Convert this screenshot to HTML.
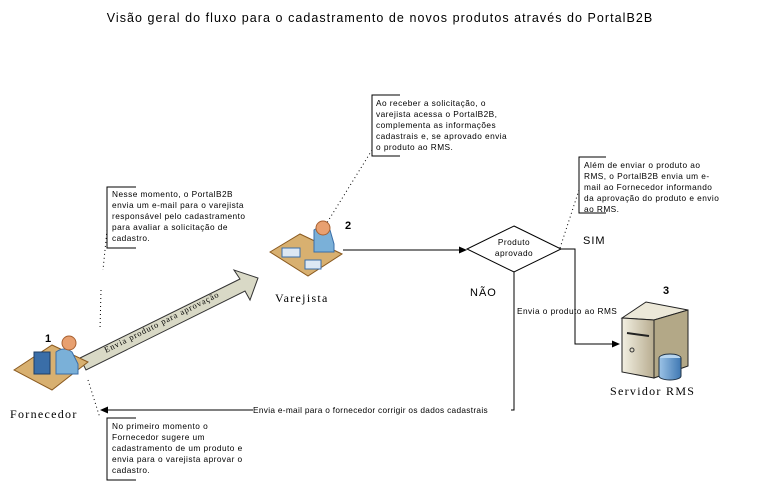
<!DOCTYPE html>
<html><head><meta charset="utf-8"><style>
body{margin:0;background:#fff;}
svg{display:block;font-family:"Liberation Sans",sans-serif;}
.n{font-size:8.3px;fill:#000;letter-spacing:0.45px;}
.l{font-size:12px;letter-spacing:1.3px;}
</style></head><body>
<svg width="772" height="483" viewBox="0 0 772 483" xmlns="http://www.w3.org/2000/svg">
<defs>
<marker id="ar" markerWidth="8" markerHeight="8" refX="7" refY="4" orient="auto" markerUnits="userSpaceOnUse"><path d="M0,0.5 L8,4 L0,7.5 z" fill="#000"/></marker>
<linearGradient id="sv" x1="0" x2="1"><stop offset="0" stop-color="#f2efe2"/><stop offset="1" stop-color="#b8ad90"/></linearGradient>
<linearGradient id="db" x1="0" x2="1"><stop offset="0" stop-color="#9cc3e6"/><stop offset="1" stop-color="#3f78b3"/></linearGradient>
</defs>
<text x="380" y="22" text-anchor="middle" font-size="12.5" letter-spacing="1.05">Visão geral do fluxo para o cadastramento de novos produtos através do PortalB2B</text>

<path d="M136,187 H107 V248 H136" fill="none" stroke="#000" stroke-width="1"/>
<text class="n" x="112" y="197">Nesse momento, o PortalB2B</text>
<text class="n" x="112" y="208">envia um e-mail para o varejista</text>
<text class="n" x="112" y="219">responsável pelo cadastramento</text>
<text class="n" x="112" y="230">para avaliar a solicitação de</text>
<text class="n" x="112" y="241">cadastro.</text>

<path d="M400,95 H372 V156 H400" fill="none" stroke="#000"/>
<text class="n" x="376" y="106">Ao receber a solicitação, o</text>
<text class="n" x="376" y="117">varejista acessa o PortalB2B,</text>
<text class="n" x="376" y="128">complementa as informações</text>
<text class="n" x="376" y="139">cadastrais e, se aprovado envia</text>
<text class="n" x="376" y="150">o produto ao RMS.</text>

<path d="M606,157 H579 V213 H606" fill="none" stroke="#000"/>
<text class="n" x="584" y="168">Além de enviar o produto ao</text>
<text class="n" x="584" y="179">RMS, o PortalB2B envia um e-</text>
<text class="n" x="584" y="190">mail ao Fornecedor informando</text>
<text class="n" x="584" y="201">da aprovação do produto e envio</text>
<text class="n" x="584" y="212">ao RMS.</text>

<path d="M136,418 H107 V480 H136" fill="none" stroke="#000"/>
<text class="n" x="112" y="429">No primeiro momento o</text>
<text class="n" x="112" y="440">Fornecedor sugere um</text>
<text class="n" x="112" y="451">cadastramento de um produto e</text>
<text class="n" x="112" y="462">envia para o varejista aprovar o</text>
<text class="n" x="112" y="473">cadastro.</text>

<g stroke="#000" stroke-dasharray="1,3" fill="none">
<path d="M107,230 L103,270"/><path d="M101,290 L100,330"/>
<path d="M88,380 L100,418"/>
<path d="M372,150 L325,226"/>
<path d="M579,190 L560,248"/>
</g>

<line x1="343" y1="250" x2="466" y2="250" stroke="#000" marker-end="url(#ar)"/>
<polygon points="514,226 561,249 514,272 467,249" fill="#fff" stroke="#000"/>
<text class="n" x="514" y="245" text-anchor="middle">Produto</text>
<text class="n" x="514" y="256" text-anchor="middle">aprovado</text>
<path d="M561,249 H575 V344 H619" fill="none" stroke="#000" marker-end="url(#ar)"/>
<rect x="253" y="404" width="260" height="11" fill="#fff"/>
<path d="M514,272 V410 H101" fill="none" stroke="#000" marker-end="url(#ar)"/>
<rect x="253" y="405" width="258" height="10" fill="#fff"/>
<text class="n" x="253" y="413" style="letter-spacing:0.3px">Envia e-mail para o fornecedor corrigir os dados cadastrais</text>
<text class="n" x="517" y="314">Envia o produto ao RMS</text>
<text x="583" y="244" font-size="11" letter-spacing="1">SIM</text>
<text x="470" y="296" font-size="11" letter-spacing="1">NÃO</text>
<text x="663" y="294" font-size="11" font-weight="bold">3</text>
<text x="345" y="229" font-size="11" font-weight="bold">2</text>
<text x="45" y="342" font-size="11" font-weight="bold">1</text>

<polygon points="80,358 240,279 234,270 258,278 250,300 245,291 86,370" fill="#d9d9c6" stroke="#333" stroke-width="1"/>
<text x="0" y="0" font-size="8.5" font-family="Liberation Serif,serif" transform="translate(106,353) rotate(-26.5)" letter-spacing="0.9">Envia produto para aprovação</text>

<polygon points="14,370 52,345 88,362 52,390" fill="#d8b070" stroke="#8a5a20"/>
<rect x="34" y="352" width="16" height="22" fill="#3a6ea8" stroke="#1e3e66"/>
<path d="M56,352 q8,-6 16,0 l6,12 v10 h-22z" fill="#7ab0d8" stroke="#3a6ea8"/>
<circle cx="69" cy="343" r="7" fill="#e8a070" stroke="#a86030"/>
<text class="l" x="10" y="418" font-family="Liberation Serif,serif">Fornecedor</text>

<polygon points="270,252 300,234 342,254 308,276" fill="#d8b070" stroke="#8a5a20"/>
<rect x="282" y="248" width="18" height="9" fill="#dde8f4" stroke="#3a6ea8"/>
<rect x="305" y="260" width="16" height="9" fill="#dde8f4" stroke="#3a6ea8"/>
<path d="M314,230 q8,-6 16,0 l4,14 v8 h-20z" fill="#7ab0d8" stroke="#3a6ea8"/>
<circle cx="323" cy="228" r="7" fill="#e8a070" stroke="#a86030"/>
<text class="l" x="275" y="302" font-family="Liberation Serif,serif">Varejista</text>

<polygon points="622,318 646,302 688,310 654,320" fill="#ece8d8" stroke="#222"/>
<polygon points="622,318 654,320 654,378 622,372" fill="url(#sv)" stroke="#222"/>
<polygon points="654,320 688,310 688,366 654,378" fill="#b3a887" stroke="#222"/>
<line x1="627" y1="333" x2="649" y2="336" stroke="#222" stroke-width="2"/>
<circle cx="632" cy="350" r="2" fill="none" stroke="#333"/>
<ellipse cx="670" cy="358" rx="11" ry="4" fill="#b8d6f0" stroke="#234"/>
<path d="M659,358 V376 a11,4 0 0 0 22,0 V358" fill="url(#db)" stroke="#234"/>
<text class="l" x="610" y="395" font-family="Liberation Serif,serif">Servidor RMS</text>
</svg>
</body></html>
